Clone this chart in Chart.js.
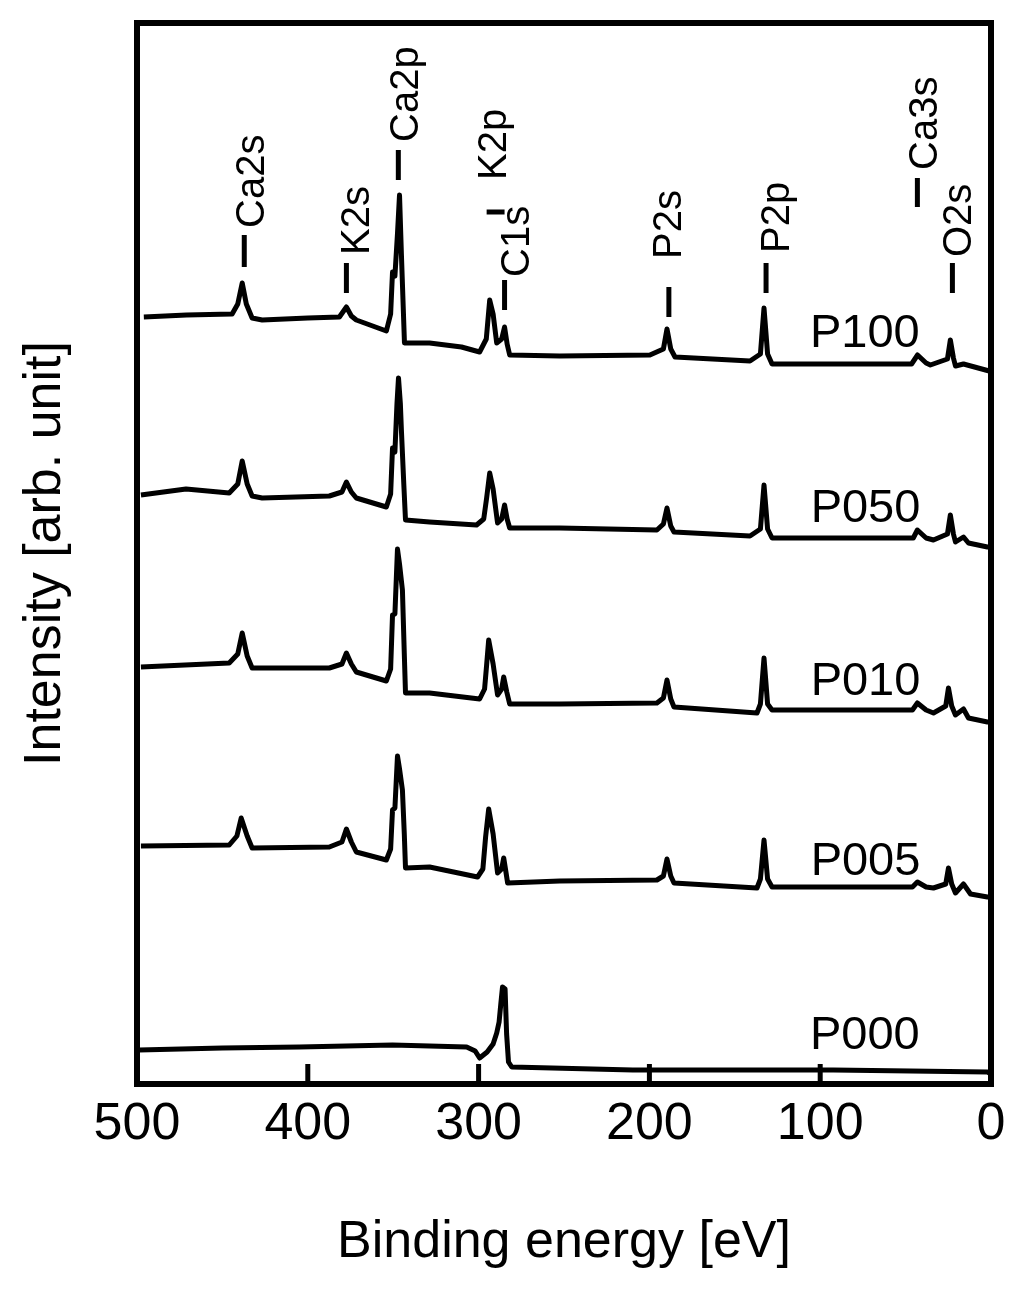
<!DOCTYPE html>
<html><head><meta charset="utf-8">
<script src="https://cdn.jsdelivr.net/npm/chart.js@4.4.1/dist/chart.umd.min.js"></script>
<style>html,body{margin:0;padding:0;background:#fff;}canvas{display:block;}</style>
</head><body>
<canvas id="c" width="1024" height="1289"></canvas>
<script>
// ---- data (binding energy [eV], intensity [arb. unit]) ----
const sampleNames = ['P100','P050','P010','P005','P000'];
const p100E = [496,471,444.3,441.0,438.4,436.0,432.6,426.7,400,381.5,377.4,374.5,371.6,354.0,351.5,350.4,349.0,347.5,346.3,345.2,343.4,328.7,310,299.4,295.5,293.5,291.5,289.4,286.5,284.8,283.3,281.8,252.5,199.7,191.8,189.7,187.5,185.0,141.1,135.0,132.9,130.8,128.2,46.5,43.0,38.0,35.5,25.5,23.8,22.0,20.8,16.1,3.2,1.0];
const p100I = [767,769,770,780,801,780,766,764,766,767,777,768,764,753,770,812,808,850,889,830,741,741,737,732,745,784,770,741,745,757,740,729,728,729,735,755,735,727,723,730,776,730,720,720,729,721,719,725,744,726,718,720,714,713];
const p050E = [497.7,471.3,446.0,441.0,438.4,435.5,432.6,426.7,387.4,380.0,377.4,374.5,371.6,354.0,351.5,350.4,349.0,347.8,346.9,345.8,345.2,343.8,342.8,328.7,301.2,297.0,295.3,293.5,291.5,288.9,286.5,284.8,283.3,281.8,252.5,195.6,191.8,189.7,187.5,185.6,141.1,135.0,132.9,130.8,128.2,45.5,43.1,38.0,33.7,25.5,23.8,22.0,20.8,16.1,13.2,2.1,1.0];
const p050I = [589,595,591,600,623,600,588,586,588,592,602,592,586,577,590,636,632,680,706,680,654,600,564,562,559,565,586,611,595,561,565,579,565,556,556,554,560,576,558,552,548,555,599,555,546,546,554,546,544,550,569,550,542,547,541,537,537];
const p010E = [497.7,446.0,441.0,438.4,435.5,432.6,387.4,380.0,377.4,374.5,371.6,354.0,351.5,350.4,349.0,347.5,346.3,344.6,343.5,342.8,328.7,299.4,296.5,295.3,294.1,291.5,288.9,286.5,285.3,283.5,281.8,252.5,195.6,191.8,189.7,187.5,185.6,137.0,135.0,132.9,130.8,128.2,46.0,43.1,38.0,33.7,26.5,24.9,23.0,20.8,16.1,13.2,2.1,1.0];
const p010I = [417,421,430,451,428,416,416,420,431,420,412,403,415,469,470,535,520,494,430,391,391,385,395,419,444,420,389,395,407,392,380,380,381,386,404,385,377,371,380,426,380,374,374,381,374,371,378,396,378,369,375,366,362,362];
const p005E = [497.7,446.0,441.5,439.0,435.5,432.6,387.4,380.0,377.4,374.5,371.6,354.0,351.5,350.4,349.0,347.5,346.3,344.6,343.5,342.8,328.7,300.6,297.5,295.9,294.1,291.5,288.9,286.5,285.3,284.0,283.0,252.5,195.6,191.8,189.7,187.5,185.6,137.0,135.0,132.9,130.8,128.2,46.0,43.1,38.0,33.7,26.5,24.9,23.0,20.8,16.1,12.0,2.1,1.0];
const p005I = [238,239,248,266,248,236,237,242,255,242,232,224,235,274,276,328,315,294,250,216,217,207,215,247,275,250,211,215,226,212,201,203,204,208,225,208,201,196,205,244,205,197,197,202,197,196,200,216,200,191,200,190,187,187];
const p000E = [498.8,450,405.0,350.4,307.0,302.0,299.4,295.0,291.5,289.4,288.0,287.0,286.0,284.5,283.6,282.5,280.6,209.7,92.4,2.1,1.0];
const p000I = [34,36,37,39,37,33,26,32,40,51,62,80,97,95,50,22,17,14,14,12,11];

const xTickLabels = ['500','400','300','200','100','0'];
const innerTickValues = [400,300,200,100];

// peak assignments
const annoNames = ['Ca2s','K2s','Ca2p','K2p','C1s','P2s','P2p','Ca3s','O2s'];
const annoTextE = [425.5,363.9,335.2,284.2,270.7,181.5,118.2,31.4,12.0];
const annoTextI = [856,829,942,904,807,825,831,914,827];
const markE1 = [437.2,377.4,347.0,295.3,284.8,188.6,131.7,43.1,22.6];
const markE2 = [437.2,377.4,347.0,284.8,284.8,188.6,131.7,43.1,22.6];
const markI1 = [817,791,904,872,774,767,791,877,791];
const markI2 = [849,821,934,872,804,797,821,906,821];

const sampleLabelE = [106,105.6,105.6,105.6,106];
const sampleLabelI = [737,562,389,209,35];

const FONT = '"Liberation Sans", Arial, sans-serif';
const series = [[p100E,p100I],[p050E,p050I],[p010E,p010I],[p005E,p005I],[p000E,p000I]];
const datasets = series.map((s,k)=>({
  label: sampleNames[k],
  data: s[0].map((e,i)=>({x:e,y:s[1][i]})),
  borderColor:'#000', borderWidth:5, pointRadius:0, tension:0, fill:false,
  borderJoinStyle:'round'
}));

const decor = {
  id:'decor',
  afterDatasetsDraw(chart){
    const {ctx, chartArea:a, scales:{x,y}} = chart;
    ctx.save();
    ctx.strokeStyle='#000'; ctx.fillStyle='#000';
    // inner ticks
    ctx.lineWidth=5;
    innerTickValues.forEach(v=>{
      const px=x.getPixelForValue(v);
      ctx.beginPath(); ctx.moveTo(px,a.bottom); ctx.lineTo(px,a.bottom-20); ctx.stroke();
    });
    // marker lines
    ctx.lineWidth=5;
    for(let i=0;i<annoNames.length;i++){
      ctx.beginPath();
      ctx.moveTo(x.getPixelForValue(markE1[i]), y.getPixelForValue(markI1[i]));
      ctx.lineTo(x.getPixelForValue(markE2[i]), y.getPixelForValue(markI2[i]));
      ctx.stroke();
    }
    // rotated labels
    ctx.font = '40px '+FONT;
    ctx.textAlign='left'; ctx.textBaseline='alphabetic';
    for(let i=0;i<annoNames.length;i++){
      ctx.save();
      ctx.translate(x.getPixelForValue(annoTextE[i]), y.getPixelForValue(annoTextI[i]));
      ctx.rotate(-Math.PI/2);
      ctx.fillText(annoNames[i],0,0);
      ctx.restore();
    }
    // sample labels
    ctx.font = '47px '+FONT;
    for(let k=0;k<sampleNames.length;k++){
      ctx.fillText(sampleNames[k], x.getPixelForValue(sampleLabelE[k]), y.getPixelForValue(sampleLabelI[k]));
    }
    // frame
    ctx.lineWidth=6;
    ctx.strokeRect(a.left,a.top,a.right-a.left,a.bottom-a.top);
    ctx.restore();
  }
};

new Chart(document.getElementById('c'),{
  type:'line',
  data:{datasets},
  options:{
    responsive:false, animation:false, devicePixelRatio:1,
    layout:{padding:{left:0,right:33,top:23,bottom:0}},
    plugins:{legend:{display:false},tooltip:{enabled:false}},
    scales:{
      x:{type:'linear',min:0,max:500,reverse:true,
        grid:{display:false,drawTicks:false},border:{display:false},
        ticks:{stepSize:100,color:'#000',padding:9,font:{family:FONT,size:52},
          callback:(v)=>xTickLabels[5-Math.round(v/100)]},
        title:{display:true,text:'Binding energy [eV]',color:'#000',font:{family:FONT,size:52},padding:{top:0,bottom:15}},
        afterFit:(s)=>{s.height=205;}
      },
      y:{type:'linear',min:0,max:1061,
        grid:{display:false,drawTicks:false},border:{display:false},
        ticks:{display:false},
        title:{display:true,text:'Intensity [arb. unit]',color:'#000',font:{family:FONT,size:52},padding:{top:14,bottom:0}},
        afterFit:(s)=>{s.width=137;}
      }
    }
  },
  plugins:[decor]
});
</script>
</body></html>
